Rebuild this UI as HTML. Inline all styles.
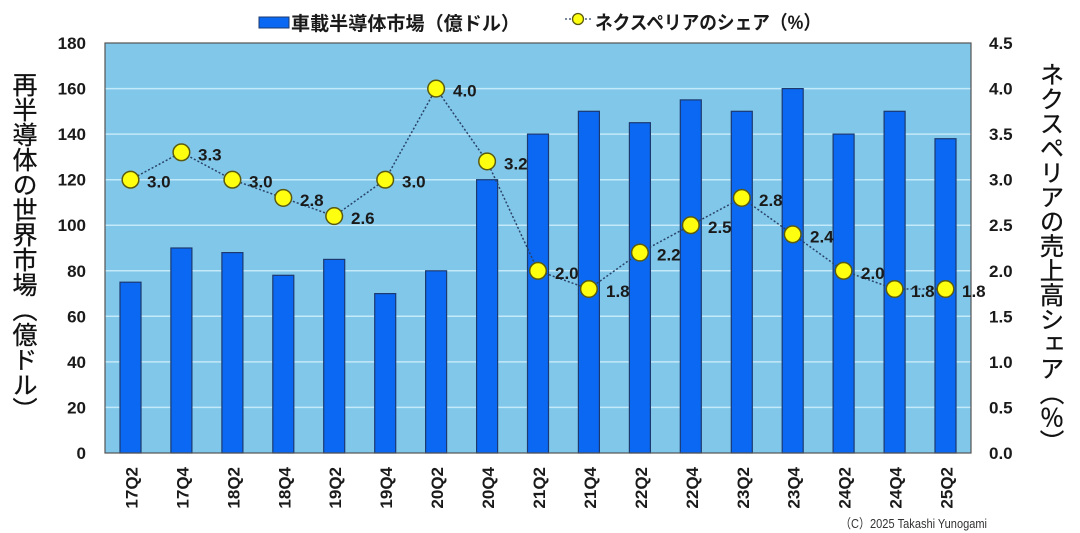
<!DOCTYPE html>
<html><head><meta charset="utf-8">
<style>
html,body{margin:0;padding:0;background:#fff;}
body{width:1080px;height:533px;position:relative;overflow:hidden;}
.vt{position:absolute;writing-mode:vertical-rl;font-family:"Liberation Sans","Noto Sans CJK JP",sans-serif;color:#111;line-height:1;white-space:nowrap;-webkit-text-stroke:0.3px #111;}
svg{position:absolute;left:0;top:0;}
</style></head><body>
<svg width="1080" height="533" viewBox="0 0 1080 533" xmlns="http://www.w3.org/2000/svg">
<rect x="105" y="43" width="866" height="410" fill="#80c7ea"/>
<g stroke="#c4e9f8" stroke-width="1.5">
<line x1="105" x2="971" y1="407.4" y2="407.4"/>
<line x1="105" x2="971" y1="361.9" y2="361.9"/>
<line x1="105" x2="971" y1="316.3" y2="316.3"/>
<line x1="105" x2="971" y1="270.8" y2="270.8"/>
<line x1="105" x2="971" y1="225.2" y2="225.2"/>
<line x1="105" x2="971" y1="179.7" y2="179.7"/>
<line x1="105" x2="971" y1="134.1" y2="134.1"/>
<line x1="105" x2="971" y1="88.6" y2="88.6"/>
</g>
<g fill="#0a68f2" stroke="#1c3a70" stroke-width="1.2">
<rect x="120.0" y="282.2" width="21" height="170.8"/>
<rect x="170.9" y="248.0" width="21" height="205.0"/>
<rect x="221.9" y="252.6" width="21" height="200.4"/>
<rect x="272.8" y="275.3" width="21" height="177.7"/>
<rect x="323.7" y="259.4" width="21" height="193.6"/>
<rect x="374.7" y="293.6" width="21" height="159.4"/>
<rect x="425.6" y="270.8" width="21" height="182.2"/>
<rect x="476.6" y="179.7" width="21" height="273.3"/>
<rect x="527.5" y="134.1" width="21" height="318.9"/>
<rect x="578.4" y="111.3" width="21" height="341.7"/>
<rect x="629.4" y="122.7" width="21" height="330.3"/>
<rect x="680.3" y="99.9" width="21" height="353.1"/>
<rect x="731.3" y="111.3" width="21" height="341.7"/>
<rect x="782.2" y="88.6" width="21" height="364.4"/>
<rect x="833.1" y="134.1" width="21" height="318.9"/>
<rect x="884.1" y="111.3" width="21" height="341.7"/>
<rect x="935.0" y="138.7" width="21" height="314.3"/>
</g>
<rect x="105" y="43" width="866" height="410" fill="none" stroke="#555" stroke-width="1.2"/>
<polyline fill="none" stroke="#2a4468" stroke-width="1.5" stroke-dasharray="2,2"
points="130.5,179.7 181.4,152.3 232.4,179.7 283.3,197.9 334.2,216.1 385.2,179.7 436.1,88.6 487.1,161.4 538,270.8 588.9,289 639.9,252.6 690.8,225.2 741.8,197.9 792.7,234.3 843.6,270.8 894.6,289 945.5,289"/>
<g fill="#ffff10" stroke="#5a5a10" stroke-width="1.5">
<circle cx="130.5" cy="179.7" r="8.3"/>
<circle cx="181.4" cy="152.3" r="8.3"/>
<circle cx="232.4" cy="179.7" r="8.3"/>
<circle cx="283.3" cy="197.9" r="8.3"/>
<circle cx="334.2" cy="216.1" r="8.3"/>
<circle cx="385.2" cy="179.7" r="8.3"/>
<circle cx="436.1" cy="88.6" r="8.3"/>
<circle cx="487.1" cy="161.4" r="8.3"/>
<circle cx="538" cy="270.8" r="8.3"/>
<circle cx="588.9" cy="289" r="8.3"/>
<circle cx="639.9" cy="252.6" r="8.3"/>
<circle cx="690.8" cy="225.2" r="8.3"/>
<circle cx="741.8" cy="197.9" r="8.3"/>
<circle cx="792.7" cy="234.3" r="8.3"/>
<circle cx="843.6" cy="270.8" r="8.3"/>
<circle cx="894.6" cy="289" r="8.3"/>
<circle cx="945.5" cy="289" r="8.3"/>
</g>
<g font-family="Liberation Sans, sans-serif" font-weight="bold" font-size="17" fill="#1a1a1a">
<text x="147" y="187.7">3.0</text>
<text x="198" y="160.3">3.3</text>
<text x="249" y="187.7">3.0</text>
<text x="300" y="205.9">2.8</text>
<text x="351" y="224.1">2.6</text>
<text x="402" y="187.7">3.0</text>
<text x="453" y="96.6">4.0</text>
<text x="504" y="169.4">3.2</text>
<text x="555" y="278.8">2.0</text>
<text x="606" y="297">1.8</text>
<text x="657" y="260.6">2.2</text>
<text x="708" y="233.2">2.5</text>
<text x="759" y="205.9">2.8</text>
<text x="810" y="242.3">2.4</text>
<text x="861" y="278.8">2.0</text>
<text x="911" y="297">1.8</text>
<text x="962" y="297">1.8</text>
</g>
<g font-family="Liberation Sans, sans-serif" font-weight="bold" font-size="17" fill="#1a1a1a" text-anchor="end">
<text x="86" y="459">0</text>
<text x="86" y="413.4">20</text>
<text x="86" y="367.9">40</text>
<text x="86" y="322.3">60</text>
<text x="86" y="276.8">80</text>
<text x="86" y="231.2">100</text>
<text x="86" y="185.7">120</text>
<text x="86" y="140.1">140</text>
<text x="86" y="94.6">160</text>
<text x="86" y="49">180</text>
</g>
<g font-family="Liberation Sans, sans-serif" font-weight="bold" font-size="17" fill="#1a1a1a">
<text x="989" y="459">0.0</text>
<text x="989" y="413.4">0.5</text>
<text x="989" y="367.9">1.0</text>
<text x="989" y="322.3">1.5</text>
<text x="989" y="276.8">2.0</text>
<text x="989" y="231.2">2.5</text>
<text x="989" y="185.7">3.0</text>
<text x="989" y="140.1">3.5</text>
<text x="989" y="94.6">4.0</text>
<text x="989" y="49">4.5</text>
</g>
<g font-family="Liberation Sans, sans-serif" font-weight="bold" font-size="17" fill="#1a1a1a" text-anchor="end">
<text transform="translate(137.5,467) rotate(-90)">17Q2</text>
<text transform="translate(188.4,467) rotate(-90)">17Q4</text>
<text transform="translate(239.4,467) rotate(-90)">18Q2</text>
<text transform="translate(290.3,467) rotate(-90)">18Q4</text>
<text transform="translate(341.2,467) rotate(-90)">19Q2</text>
<text transform="translate(392.2,467) rotate(-90)">19Q4</text>
<text transform="translate(443.1,467) rotate(-90)">20Q2</text>
<text transform="translate(494.1,467) rotate(-90)">20Q4</text>
<text transform="translate(545,467) rotate(-90)">21Q2</text>
<text transform="translate(595.9,467) rotate(-90)">21Q4</text>
<text transform="translate(646.9,467) rotate(-90)">22Q2</text>
<text transform="translate(697.8,467) rotate(-90)">22Q4</text>
<text transform="translate(748.8,467) rotate(-90)">23Q2</text>
<text transform="translate(799.7,467) rotate(-90)">23Q4</text>
<text transform="translate(850.6,467) rotate(-90)">24Q2</text>
<text transform="translate(901.6,467) rotate(-90)">24Q4</text>
<text transform="translate(952.5,467) rotate(-90)">25Q2</text>
</g>
<!-- legend -->
<rect x="259" y="17" width="30" height="11" fill="#0a68f2" stroke="#1c3a70" stroke-width="1"/>
<text x="291" y="30" font-family="Liberation Sans, Noto Sans CJK JP, sans-serif" font-weight="bold" font-size="19" fill="#1a1a1a" textLength="229" lengthAdjust="spacingAndGlyphs">車載半導体市場（億ドル）</text>
<line x1="565" y1="19" x2="592" y2="19" stroke="#2a4468" stroke-width="1.3" stroke-dasharray="2,2"/>
<circle cx="578" cy="19" r="5.5" fill="#ffff10" stroke="#5a5a10" stroke-width="1.3"/>
<text x="595" y="29" font-family="Liberation Sans, Noto Sans CJK JP, sans-serif" font-weight="bold" font-size="19" fill="#1a1a1a" textLength="226" lengthAdjust="spacingAndGlyphs">ネクスペリアのシェア（%）</text>
<text x="840" y="528" font-family="Liberation Sans, Noto Sans CJK JP, sans-serif" font-size="13" fill="#333" textLength="147" lengthAdjust="spacingAndGlyphs">（C）2025 Takashi Yunogami</text>
</svg>
<div class="vt" style="left:10px;top:72px;font-size:25px;">再半導体の世界市場（億ドル）</div>
<div class="vt" style="left:1037px;top:62px;font-size:24.5px;">ネクスペリアの売上高シェア（％）</div>
</body></html>
